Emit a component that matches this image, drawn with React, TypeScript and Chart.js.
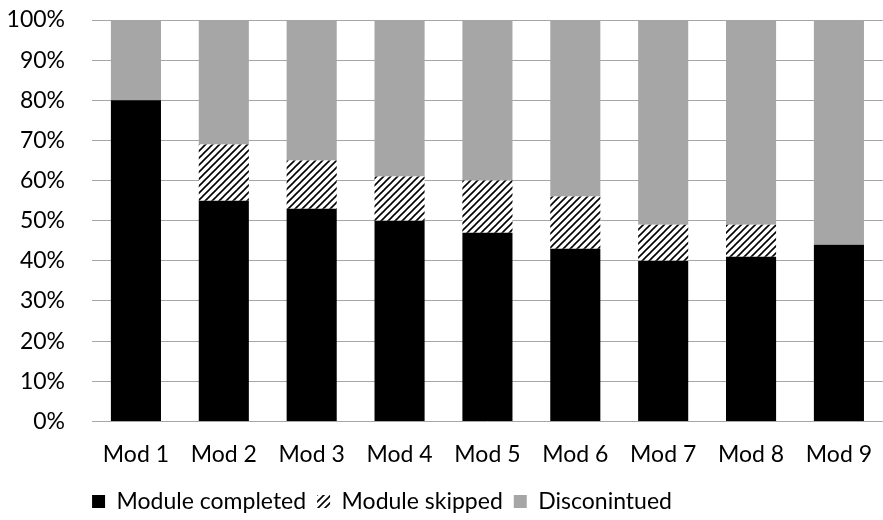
import React, { useEffect, useRef } from "react";
import { Chart, registerables } from "chart.js";

Chart.register(...registerables);

const categories = ["Mod 1", "Mod 2", "Mod 3", "Mod 4", "Mod 5", "Mod 6", "Mod 7", "Mod 8", "Mod 9"];
const completed = [80, 55, 53, 50, 47, 43, 40, 41, 44];
const skipped = [0, 14, 12, 11, 13, 13, 9, 8, 0];
const discontinued = [20, 31, 35, 39, 40, 44, 51, 51, 56];
const seriesNames = ["Module completed", "Module skipped", "Disconintued"];

function makeHatch(): CanvasPattern | string {
  const c = document.createElement("canvas");
  c.width = 7;
  c.height = 7;
  const ctx = c.getContext("2d");
  if (!ctx) return "#888";
  ctx.fillStyle = "#ffffff";
  ctx.fillRect(0, 0, 7, 7);
  ctx.strokeStyle = "#000000";
  ctx.lineWidth = 1.6;
  ctx.beginPath();
  ctx.moveTo(-1, 8);
  ctx.lineTo(8, -1);
  ctx.moveTo(-1, 1);
  ctx.lineTo(1, -1);
  ctx.moveTo(6, 8);
  ctx.lineTo(8, 6);
  ctx.stroke();
  return ctx.createPattern(c, "repeat") || "#888";
}

const legendShift = {
  id: "legendShift",
  afterLayout(chart: any) {
    const l = chart.legend;
    if (!l) return;
    l.left = 0;
    l.right = 764;
  },
};

export default function App() {
  const ref = useRef<HTMLCanvasElement>(null);
  useEffect(() => {
    if (!ref.current) return;
    const font = { family: "Lato, 'Liberation Sans', sans-serif", size: 23 };
    const hatch = makeHatch();
    const chart = new Chart(ref.current, {
      type: "bar",
      data: {
        labels: categories,
        datasets: [
          { label: seriesNames[0], data: completed, backgroundColor: "#000000" },
          { label: seriesNames[1], data: skipped, backgroundColor: hatch as any },
          { label: seriesNames[2], data: discontinued, backgroundColor: "#a6a6a6" },
        ],
      },
      plugins: [legendShift],
      options: {
        animation: false,
        responsive: false,
        maintainAspectRatio: false,
        layout: { padding: { left: 0, right: 0, top: 20, bottom: -3 } },
        datasets: { bar: { categoryPercentage: 1, barPercentage: 0.57 } },
        scales: {
          x: {
            stacked: true,
            grid: { display: false },
            border: { display: false },
            ticks: { font, color: "#000", padding: 11, maxRotation: 0 },
          },
          y: {
            stacked: true,
            min: 0,
            max: 100,
            afterFit: (scale: any) => {
              scale.width = 92;
            },
            ticks: { stepSize: 10, font, color: "#000", padding: 0, callback: (v: any) => v + "%" },
            grid: {
              color: "#a6a6a6",
              lineWidth: 1,
              drawTicks: true,
              tickLength: 27,
              tickColor: "rgba(0,0,0,0)",
            },
            border: { display: false },
          },
        },
        plugins: {
          legend: {
            position: "bottom",
            labels: { font, color: "#000", boxWidth: 13, boxHeight: 13, padding: 11 },
          },
          tooltip: { enabled: false },
        },
      },
    });
    return () => chart.destroy();
  }, []);
  return (
    <div style={{ position: "fixed", left: 0, top: 0, width: 883, height: 520, background: "#fff" }}>
      <canvas ref={ref} width={883} height={520} style={{ width: 883, height: 520 }} />
    </div>
  );
}
